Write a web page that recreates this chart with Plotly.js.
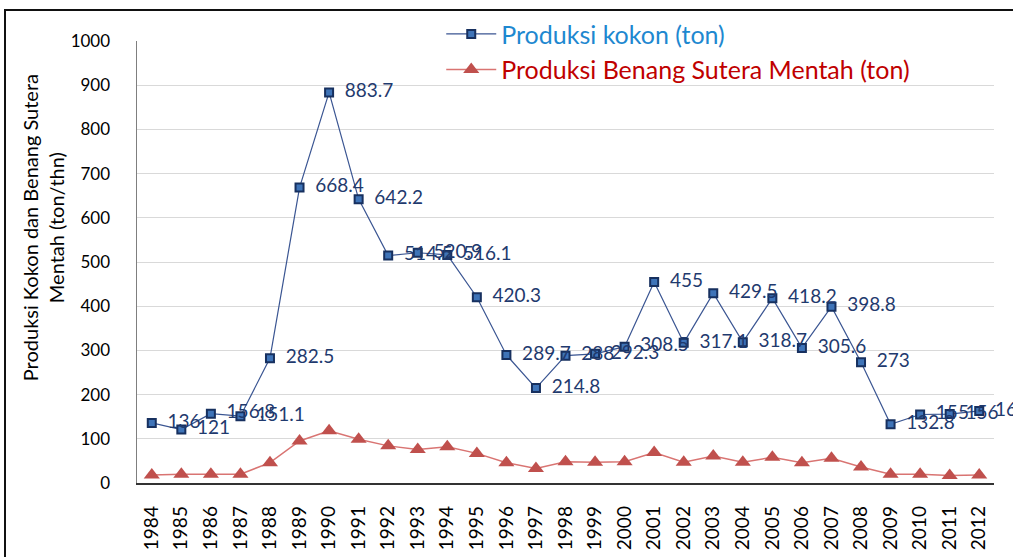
<!DOCTYPE html>
<html>
<head>
<meta charset="utf-8">
<script src="https://cdn.plot.ly/plotly-3.0.1.min.js"></script>
<style>
  html, body { margin: 0; padding: 0; background: #fff; overflow: hidden; }
  #chart { width: 1013px; height: 557px; position: absolute; left: 0; top: 0; }
  #frame { position: absolute; left: 4px; top: 9px; width: 1020px; height: 600px;
           border-left: 2.5px solid #111; border-top: 2.5px solid #111; pointer-events: none; }
</style>
</head>
<body>
<div id="chart"></div>
<div id="frame"></div>
<script>
const years = ['1984','1985','1986','1987','1988','1989','1990','1991','1992','1993',
  '1994','1995','1996','1997','1998','1999','2000','2001','2002','2003','2004','2005',
  '2006','2007','2008','2009','2010','2011','2012'];
const kokon = [136, 121, 156.8, 151.1, 282.5, 668.4, 883.7, 642.2, 514.5, 520.9,
  516.1, 420.3, 289.7, 214.8, 288, 292.3, 308.5, 455, 317.1, 429.5, 318.7, 418.2,
  305.6, 398.8, 273, 132.8, 155, 156, 163];
const benang = [18, 20, 20, 20, 46, 95, 118, 99, 84, 76,
  82, 67, 46, 33, 48, 47, 48, 69, 47, 61, 47, 58,
  46, 56, 36, 20, 20, 17, 18];
const kokonName = '<span style="color:#1e88d0">Produksi kokon (ton)</span>';
const benangName = '<span style="color:#c00000">Produksi Benang Sutera Mentah (ton)</span>';
const yTitle = 'Produksi Kokon dan Benang Sutera<br>Mentah (ton/thn)';

const font = 'Lato, "Open Sans", sans-serif';

const traces = [
  {
    x: years, y: kokon, name: kokonName, type: 'scatter', mode: 'lines+markers+text',
    text: kokon.map(v => '\u00a0\u00a0' + String(v)), textposition: 'middle right',
    textfont: {family: font, size: 19, color: '#1f3a6e'},
    line: {color: '#3a5592', width: 1.2},
    marker: {symbol: 'square', size: 8, color: '#3f74b8', line: {color: '#17305f', width: 2}},
    cliponaxis: false
  },
  {
    x: years, y: benang, name: benangName, type: 'scatter', mode: 'lines+markers',
    line: {color: '#d97472', width: 1.5},
    marker: {symbol: 'triangle-up', size: 14, color: '#c0504d'},
    cliponaxis: false
  }
];

const layout = {
  width: 1013, height: 557,
  margin: {l: 137, r: 19, t: 40, b: 74},
  paper_bgcolor: '#fff', plot_bgcolor: '#fff',
  font: {family: font, color: '#000'},
  showlegend: true,
  legend: {
    x: 0.355, y: 1.065, xanchor: 'left', yanchor: 'top',
    bgcolor: 'rgba(0,0,0,0)', font: {family: font, size: 25},
    tracegroupgap: 0, itemwidth: 50
  },
  xaxis: {
    type: 'category', range: [-0.5, 28.5],
    showgrid: false, showline: true, linecolor: '#333', linewidth: 1.5,
    tickangle: -90, ticks: 'outside', ticklen: 14, tickcolor: 'rgba(0,0,0,0)',
    tickfont: {family: font, size: 19, color: '#000'}, zeroline: false
  },
  yaxis: {
    range: [0, 1000], dtick: 100, tick0: 0,
    showgrid: true, gridcolor: '#d9d9d9', gridwidth: 1,
    showline: true, linecolor: '#7f7f7f', linewidth: 1.5, zeroline: false,
    ticks: 'outside', ticklen: 22, tickcolor: 'rgba(0,0,0,0)',
    tickfont: {family: font, size: 17, color: '#000'}
  },
  annotations: [{
    text: yTitle, textangle: -90, showarrow: false,
    xref: 'paper', yref: 'paper', x: -0.11, y: 0.578,
    xanchor: 'center', yanchor: 'middle',
    font: {family: font, size: 20, color: '#000'}
  }]
};

Plotly.newPlot('chart', traces, layout, {displayModeBar: false, staticPlot: true});
</script>
</body>
</html>
